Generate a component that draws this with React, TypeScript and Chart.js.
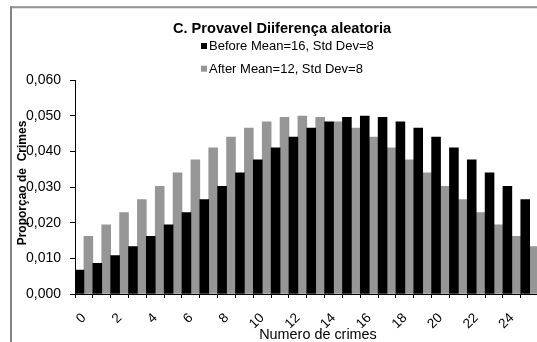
import React, { useEffect, useRef } from 'react';
import { Chart, registerables } from 'chart.js';

Chart.register(...registerables);

// Number of crimes (categories on the x axis)
const crimeCounts = [
  '0', '1', '2', '3', '4', '5', '6', '7', '8', '9', '10', '11', '12',
  '13', '14', '15', '16', '17', '18', '19', '20', '21', '22', '23', '24', '25',
];

const beforeLabel = 'Before Mean=16, Std Dev=8';
const afterLabel = 'After Mean=12, Std Dev=8';

// Proportion of crimes for each count
const beforeShares = [
  0.0067, 0.0086, 0.0108, 0.0133, 0.0162, 0.0194, 0.0228, 0.0265, 0.0302,
  0.034, 0.0376, 0.041, 0.044, 0.0465, 0.0483, 0.0495, 0.0499, 0.0495,
  0.0483, 0.0465, 0.044, 0.041, 0.0376, 0.034, 0.0302, 0.0265,
];
const afterShares = [
  0.0162, 0.0194, 0.0228, 0.0265, 0.0302, 0.034, 0.0376, 0.041, 0.044,
  0.0465, 0.0483, 0.0495, 0.0499, 0.0495, 0.0483, 0.0465, 0.044, 0.041,
  0.0376, 0.034, 0.0302, 0.0265, 0.0228, 0.0194, 0.0162, 0.0133,
];

const yTickValues = [0, 0.01, 0.02, 0.03, 0.04, 0.05, 0.06];

const chartTitle = 'C. Provavel Diiferença aleatoria';
const yAxisTitle = 'Proporçao de  Crimes';
const xAxisTitle = 'Numero de crimes';

const FONT = '"Liberation Sans", Arial, Helvetica, sans-serif';
const CANVAS_W = 560;
const CANVAS_H = 350;
const X_AXIS_H = 45;

// Frame, title, legend and axis titles drawn on top of the bars
const decorations = {
  id: 'decorations',
  afterDraw(chart: any) {
    const ctx: CanvasRenderingContext2D = chart.ctx;
    const area = chart.chartArea;
    ctx.save();

    // outer chart frame (left and top edges)
    ctx.fillStyle = '#4a4a4a';
    ctx.fillRect(10, 6.5, CANVAS_W, 1.2);
    ctx.fillStyle = '#c8c8c8';
    ctx.fillRect(11, 7.7, CANVAS_W, 0.8);
    ctx.fillStyle = '#858585';
    ctx.fillRect(10, 6.5, 2, CANVAS_H);

    // title
    ctx.fillStyle = '#000';
    ctx.font = `bold 14.6px ${FONT}`;
    ctx.textAlign = 'center';
    ctx.textBaseline = 'alphabetic';
    ctx.fillText(chartTitle, 282, 33);

    // legend
    ctx.font = `13px ${FONT}`;
    ctx.textAlign = 'left';
    const rows = [50, 72.7];
    chart.data.datasets.forEach((ds: any, i: number) => {
      const base = rows[i];
      ctx.fillStyle = ds.backgroundColor;
      ctx.fillRect(201, base - 7, 6, 6);
      ctx.fillStyle = '#000';
      ctx.fillText(ds.label, 209, base);
    });

    // y axis title
    ctx.save();
    ctx.font = `bold 12px ${FONT}`;
    ctx.translate(26, (area.top + area.bottom) / 2 - 4);
    ctx.rotate(-Math.PI / 2);
    ctx.textAlign = 'center';
    ctx.textBaseline = 'alphabetic';
    ctx.fillText(yAxisTitle, 0, 0);
    ctx.restore();

    // x axis title
    ctx.font = `14.4px ${FONT}`;
    ctx.textAlign = 'center';
    ctx.fillText(xAxisTitle, 318, 339);

    ctx.restore();
  },
};

export default function App() {
  const canvasRef = useRef<HTMLCanvasElement | null>(null);

  useEffect(() => {
    document.body.style.margin = '0';
    const canvas = canvasRef.current;
    if (!canvas) return;

    const chart = new Chart(canvas, {
      type: 'bar',
      data: {
        labels: crimeCounts,
        datasets: [
          {
            label: beforeLabel,
            data: beforeShares,
            backgroundColor: '#000000',
            borderWidth: 0,
            categoryPercentage: 1,
            barPercentage: 1,
          },
          {
            label: afterLabel,
            data: afterShares,
            backgroundColor: '#969696',
            borderWidth: 0,
            categoryPercentage: 1,
            barPercentage: 1,
          },
        ],
      },
      options: {
        animation: false,
        responsive: false,
        maintainAspectRatio: false,
        devicePixelRatio: 1,
        layout: {
          padding: {
            left: 0,
            top: 80,
            right: CANVAS_W - 538.6,
            bottom: CANVAS_H - 294 - X_AXIS_H,
          },
        },
        plugins: {
          legend: { display: false },
          title: { display: false },
          tooltip: { enabled: false },
        },
        scales: {
          x: {
            type: 'category',
            offset: true,
            border: { display: true, color: '#000', width: 1 },
            grid: {
              display: true,
              offset: true,
              drawOnChartArea: false,
              drawTicks: true,
              tickLength: 4,
              color: '#000',
            },
            ticks: {
              autoSkip: false,
              minRotation: 45,
              maxRotation: 45,
              padding: 12,
              color: '#000',
              font: { family: FONT, size: 13.5 },
              callback: (_v: any, i: number) => (i % 2 === 0 ? crimeCounts[i] : ''),
            },
            afterFit: (scale: any) => {
              scale.height = X_AXIS_H;
            },
          },
          y: {
            min: 0,
            max: 0.06,
            border: { display: true, color: '#000', width: 1 },
            grid: {
              display: true,
              drawOnChartArea: false,
              drawTicks: true,
              tickLength: 5,
              color: '#000',
            },
            afterBuildTicks: (scale: any) => {
              scale.ticks = yTickValues.map((v) => ({ value: v }));
            },
            ticks: {
              padding: 9,
              color: '#000',
              font: { family: FONT, size: 14 },
              callback: (v: any) => Number(v).toFixed(3).replace('.', ','),
            },
            afterFit: (scale: any) => {
              scale.width = 75;
            },
          },
        },
      },
      plugins: [decorations],
    });

    return () => chart.destroy();
  }, []);

  return (
    <div style={{ width: 537, height: 342, overflow: 'hidden', background: '#fff' }}>
      <canvas ref={canvasRef} width={CANVAS_W} height={CANVAS_H} style={{ display: 'block' }} />
    </div>
  );
}
